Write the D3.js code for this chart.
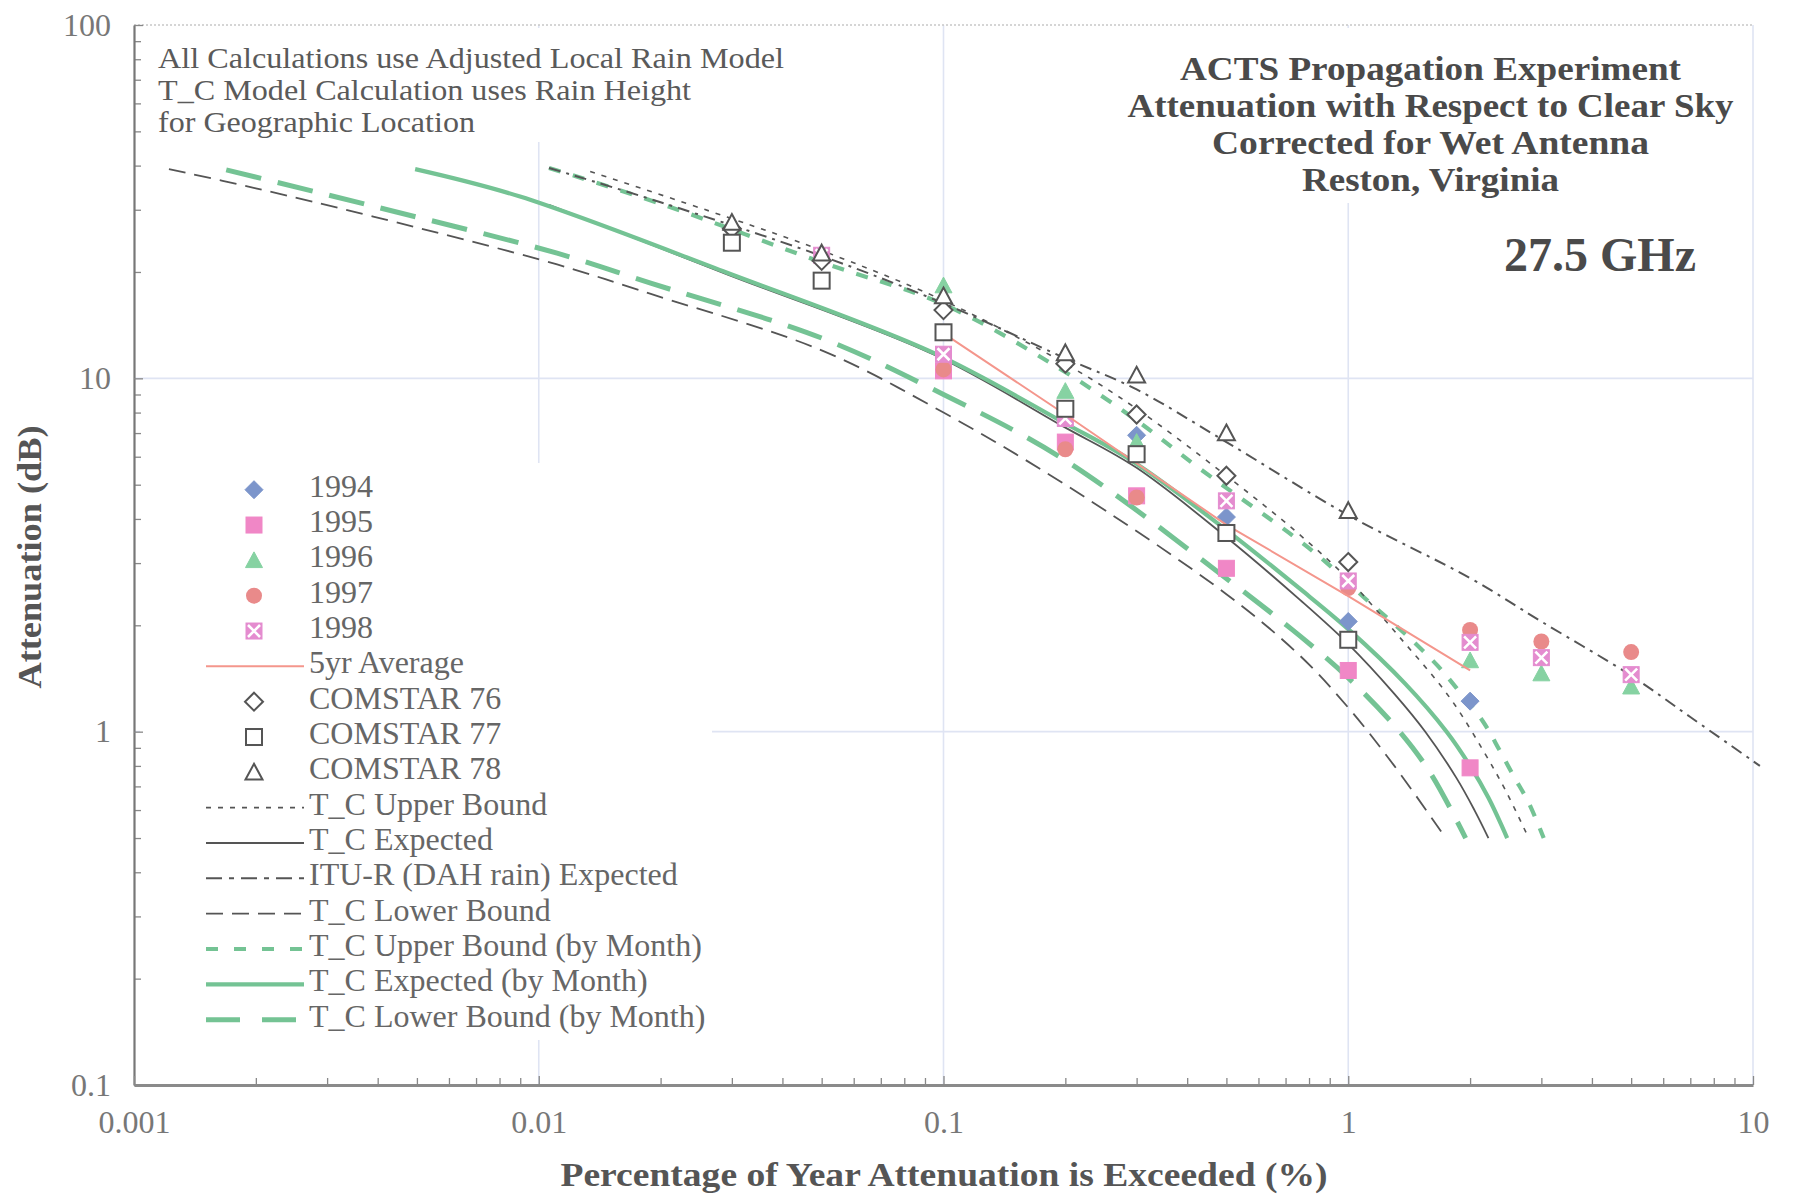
<!DOCTYPE html>
<html><head><meta charset="utf-8">
<script src="https://cdn.jsdelivr.net/npm/d3@7"></script>
<style>
body{margin:0;background:#fff}
svg{display:block}
text{font-family:"Liberation Serif","Times New Roman",serif}
</style>
</head><body>
<svg id="c" width="1794" height="1197"></svg>
<script>
// ---------- axis ticks ----------
const xTickValues = [0.001, 0.01, 0.1, 1, 10];
const xTickLabels = ["0.001", "0.01", "0.1", "1", "10"];
const yTickValues = [0.1, 1, 10, 100];
const yTickLabels = ["0.1", "1", "10", "100"];

// ---------- measured data: [percentage of year, attenuation dB] ----------
const s1994 = [[0.3,6.9],[0.5,4.05],[1,2.05],[2,1.22]];
const s1995 = [[0.1,10.5],[0.2,6.6],[0.3,4.65],[0.5,2.9],[1,1.49],[2,0.79]];
const s1996 = [[0.1,18.3],[0.2,9.2],[0.3,6.6],[2,1.59],[3,1.46],[5,1.34]];
const s1997 = [[0.1,10.6],[0.2,6.3],[0.3,4.6],[1,2.55],[2,1.94],[3,1.8],[5,1.68]];
const s1998 = [[0.05,22.3],[0.1,11.7],[0.2,7.7],[0.5,4.5],[1,2.67],[2,1.79],[3,1.62],[5,1.45]];
const avg5yr = [[0.1,13.4],[0.2,7.9],[0.5,3.85],[1,2.42],[2,1.49]];
const comstar76 = [[0.03,26.5],[0.05,21.5],[0.1,15.6],[0.2,11.0],[0.3,7.9],[0.5,5.3],[1,3.02]];
const comstar77 = [[0.03,24.2],[0.05,18.9],[0.1,13.5],[0.2,8.2],[0.3,6.1],[0.5,3.65],[1,1.82]];
const comstar78 = [[0.03,27.6],[0.05,22.6],[0.1,17.1],[0.2,11.8],[0.3,10.2],[0.5,7.0],[1,4.22]];

// ---------- model curves ----------
const tcUpper = [[0.0134,38.5],[0.0292,28.6],[0.05,23.0],[0.1,16.6],[0.2,11.0],[0.3,8.2],[0.5,5.3],[0.75,3.65],[1,2.7],[1.34,1.85],[1.78,1.25],[2.16,0.88],[2.45,0.68],[2.79,0.5]];
const tcExpected = [[0.0106,31.0],[0.0292,19.7],[0.0945,11.68],[0.198,7.3],[0.3,5.58],[0.5,3.55],[0.76,2.36],[1,1.77],[1.3,1.28],[1.55,1.0],[1.85,0.74],[2.05,0.6],[2.22,0.5]];
const ituExpected = [[0.0106,39.4],[0.02,31.5],[0.05,22.2],[0.1,16.3],[0.2,11.4],[0.3,9.3],[0.5,6.6],[1,4.1],[2,2.72],[3,2.05],[5,1.44],[7,1.1],[10.4,0.8]];
const tcLower = [[0.00122,39.1],[0.002,34.5],[0.0039,28.7],[0.0111,21.0],[0.019,17.3],[0.05,12.0],[0.1,8.0],[0.2,5.0],[0.5,2.45],[0.76,1.64],[1,1.17],[1.3,0.8],[1.74,0.5]];
const tcUpperMonth = [[0.0106,39.4],[0.02,31.2],[0.05,21.3],[0.1,16.2],[0.19,10.8],[0.3,7.6],[0.43,5.55],[0.733,3.57],[0.886,3.0],[1.12,2.34],[1.29,2.03],[1.47,1.77],[1.66,1.54],[1.85,1.33],[2.15,1.07],[2.36,0.89],[2.56,0.75],[2.79,0.63],[3.04,0.5]];
const tcExpectedMonth = [[0.00495,39.1],[0.00899,32.7],[0.0292,19.9],[0.0945,11.8],[0.198,7.5],[0.295,5.8],[0.5,3.72],[0.762,2.53],[1,1.95],[1.38,1.37],[1.75,1.0],[2,0.8],[2.22,0.65],[2.47,0.5]];
const tcLowerMonth = [[0.00169,38.9],[0.0039,30.7],[0.0111,22.6],[0.0189,18.6],[0.05,13.0],[0.1,9.0],[0.198,5.9],[0.516,2.64],[0.762,1.86],[1,1.42],[1.34,1.0],[1.6,0.76],[1.95,0.5]];

// ---------- texts ----------
const legendLabels = ["1994","1995","1996","1997","1998","5yr Average","COMSTAR 76","COMSTAR 77","COMSTAR 78",
  "T_C Upper Bound","T_C Expected","ITU-R (DAH rain) Expected","T_C Lower Bound",
  "T_C Upper Bound (by Month)","T_C Expected (by Month)","T_C Lower Bound (by Month)"];
const noteLines = ["All Calculations use Adjusted Local Rain Model","T_C Model Calculation uses Rain Height","for Geographic Location"];
const titleLines = ["ACTS Propagation Experiment","Attenuation with Respect to Clear Sky","Corrected for Wet Antenna","Reston, Virginia"];
const freqLabel = "27.5 GHz";
const xTitle = "Percentage of Year Attenuation is Exceeded (%)";
const yTitle = "Attenuation (dB)";

// ---------- drawing ----------
const W = 1794, H = 1197;
const svg = d3.select("#c");
svg.append("rect").attr("width", W).attr("height", H).attr("fill", "#fff");

const x = d3.scaleLog().domain([0.001, 10]).range([134, 1753]);
const y = d3.scaleLog().domain([0.1, 100]).range([1085, 25]);

const GREEN = "#74c394", DARK = "#555";
const C = {b94:"#7c95cb", p95:"#f087c6", g96:"#86d2a2", r97:"#e98a8a", p98:"#e48ccf", avg:"#f4968c"};

// gridlines
const grid = svg.append("g");
grid.selectAll("line.v").data([0.01, 0.1, 1, 10]).join("line").attr("class","v")
  .attr("x1", d => x(d)).attr("x2", d => x(d)).attr("y1", y(100)).attr("y2", y(0.1))
  .attr("stroke", "#dfe4f3").attr("stroke-width", 1.6);
grid.selectAll("line.h").data([1, 10]).join("line").attr("class","h")
  .attr("x1", x(0.001)).attr("x2", x(10)).attr("y1", d => y(d)).attr("y2", d => y(d))
  .attr("stroke", "#dfe4f3").attr("stroke-width", 1.6);
grid.append("line").attr("x1", x(0.001)).attr("x2", x(10)).attr("y1", y(100)).attr("y2", y(100))
  .attr("stroke", "#c8c8c8").attr("stroke-width", 1.5).attr("stroke-dasharray", "2,2");

// white text boxes covering gridlines
svg.append("rect").attr("x", 150).attr("y", 28).attr("width", 650).attr("height", 114).attr("fill", "#fff");
svg.append("rect").attr("x", 1100).attr("y", 28).attr("width", 645).attr("height", 175).attr("fill", "#fff");
svg.append("rect").attr("x", 140).attr("y", 463).attr("width", 572).attr("height", 577).attr("fill", "#fff");

// curves
const line = d3.line().x(d => x(d[0])).y(d => y(d[1])).curve(d3.curveCatmullRom.alpha(0.5));
const lineLin = d3.line().x(d => x(d[0])).y(d => y(d[1]));
const curveG = svg.append("g").attr("fill", "none").attr("stroke-linecap", "butt");
const curveDefs = [
  {d: tcLower, stroke: DARK, w: 1.8, dash: "17,9"},
  {d: tcExpected, stroke: DARK, w: 1.8, dash: null},
  {d: tcLowerMonth, stroke: GREEN, w: 5, dash: "36,17"},
  {d: tcExpectedMonth, stroke: GREEN, w: 4.2, dash: null},
  {d: tcUpperMonth, stroke: GREEN, w: 4.2, dash: "12,13"},
  {d: tcUpper, stroke: DARK, w: 1.6, dash: "5,7"},
  {d: ituExpected, stroke: DARK, w: 2, dash: "12,6,3,6"}
];
curveDefs.forEach(c => {
  const p = curveG.append("path").attr("d", line(c.d)).attr("stroke", c.stroke).attr("stroke-width", c.w);
  if (c.dash) p.attr("stroke-dasharray", c.dash);
});

// markers
function marker(g, type, cx, cy) {
  const s = 8;
  if (type === "diamond" || type === "odiamond") {
    const h = 9;
    g.append("path").attr("d", `M${cx},${cy-h}L${cx+h},${cy}L${cx},${cy+h}L${cx-h},${cy}Z`)
      .attr("fill", type === "diamond" ? C.b94 : "#fff")
      .attr("stroke", type === "diamond" ? C.b94 : DARK).attr("stroke-width", type === "diamond" ? 1 : 2);
  } else if (type === "square" || type === "osquare") {
    g.append("rect").attr("x", cx - s).attr("y", cy - s).attr("width", 2*s).attr("height", 2*s)
      .attr("fill", type === "square" ? C.p95 : "#fff")
      .attr("stroke", type === "square" ? C.p95 : DARK).attr("stroke-width", type === "square" ? 1 : 2);
  } else if (type === "triangle" || type === "otriangle") {
    const hw = 8.5, hh = 8.5;
    g.append("path").attr("d", `M${cx},${cy-hh}L${cx+hw},${cy+hh*0.85}L${cx-hw},${cy+hh*0.85}Z`)
      .attr("fill", type === "triangle" ? C.g96 : "#fff")
      .attr("stroke", type === "triangle" ? C.g96 : DARK).attr("stroke-width", type === "triangle" ? 1 : 2)
      .attr("stroke-linejoin", "miter");
  } else if (type === "circle") {
    g.append("circle").attr("cx", cx).attr("cy", cy).attr("r", 8).attr("fill", C.r97);
  } else if (type === "xsquare") {
    g.append("rect").attr("x", cx - s).attr("y", cy - s).attr("width", 2*s).attr("height", 2*s)
      .attr("fill", C.p98).attr("stroke", C.p98).attr("stroke-width", 1);
    g.append("path").attr("d", `M${cx-s+2},${cy-s+2}L${cx+s-2},${cy+s-2}M${cx+s-2},${cy-s+2}L${cx-s+2},${cy+s-2}`)
      .attr("stroke", "#fff").attr("stroke-width", 2.6);
  }
}

const markG = svg.append("g");
const markerSeries = [
  {d: s1994, t: "diamond"}, {d: s1995, t: "square"}, {d: s1996, t: "triangle"},
  {d: s1997, t: "circle"}, {d: s1998, t: "xsquare"}
];
markerSeries.forEach(s => s.d.forEach(p => marker(markG, s.t, x(p[0]), y(p[1]))));
markG.append("path").attr("d", lineLin(avg5yr)).attr("fill", "none").attr("stroke", C.avg).attr("stroke-width", 2);
[{d: comstar76, t: "odiamond"}, {d: comstar77, t: "osquare"}, {d: comstar78, t: "otriangle"}]
  .forEach(s => s.d.forEach(p => marker(markG, s.t, x(p[0]), y(p[1]))));

// axes
const yMinor = [], xMinor = [];
[0.1, 1, 10].forEach(d => { for (let k = 2; k <= 9; k++) yMinor.push(+(d*k).toPrecision(3)); });
[0.001, 0.01, 0.1, 1].forEach(d => { for (let k = 2; k <= 9; k++) xMinor.push(+(d*k).toPrecision(3)); });

const axL = svg.append("g").attr("transform", `translate(${x(0.001)},0)`);
axL.call(d3.axisLeft(y).tickValues(yMinor).tickSize(-7).tickSizeOuter(0).tickFormat(""));
axL.call(g => g.select(".domain").remove());
const axL2 = svg.append("g").attr("transform", `translate(${x(0.001)},0)`);
axL2.call(d3.axisLeft(y).tickValues(yTickValues).tickSize(-9).tickSizeOuter(0).tickPadding(23)
  .tickFormat((d, i) => yTickLabels[i]));
axL2.select(".domain").attr("stroke", "#777").attr("stroke-width", 2.2);

const axB = svg.append("g").attr("transform", `translate(0,${y(0.1)})`);
axB.call(d3.axisBottom(x).tickValues(xMinor).tickSize(-7).tickSizeOuter(0).tickFormat(""));
axB.call(g => g.select(".domain").remove());
const axB2 = svg.append("g").attr("transform", `translate(0,${y(0.1)})`);
axB2.call(d3.axisBottom(x).tickValues(xTickValues).tickSize(-9).tickSizeOuter(0).tickPadding(25)
  .tickFormat((d, i) => xTickLabels[i]));
axB2.select(".domain").attr("stroke", "#8a8a8a").attr("stroke-width", 3.2);

svg.selectAll(".tick line").attr("stroke", "#888").attr("stroke-width", 1.3);
svg.selectAll(".tick text").attr("font-family", "'Liberation Serif', serif").attr("font-size", 32).attr("fill", "#777");

// legend
const legG = svg.append("g");
const legTypes = ["diamond","square","triangle","circle","xsquare","line:avg","odiamond","osquare","otriangle",
  "line:up","line:exp","line:itu","line:low","line:upm","line:expm","line:lowm"];
const lineStyles = {
  avg: {stroke: C.avg, w: 2, dash: null},
  up: {stroke: DARK, w: 1.6, dash: "5,7"},
  exp: {stroke: DARK, w: 1.8, dash: null},
  itu: {stroke: DARK, w: 2, dash: "16,7,5,7"},
  low: {stroke: DARK, w: 1.8, dash: "17,9"},
  upm: {stroke: GREEN, w: 4.2, dash: "12,16"},
  expm: {stroke: GREEN, w: 4.2, dash: null},
  lowm: {stroke: GREEN, w: 5, dash: "34,22"}
};
legendLabels.forEach((lab, i) => {
  const cy = 489.7 + i * 35.33;
  const t = legTypes[i];
  if (t.startsWith("line:")) {
    const st = lineStyles[t.slice(5)];
    const l = legG.append("line").attr("x1", 206).attr("x2", 304).attr("y1", cy).attr("y2", cy)
      .attr("stroke", st.stroke).attr("stroke-width", st.w);
    if (st.dash) l.attr("stroke-dasharray", st.dash);
  } else {
    marker(legG, t, 254, cy);
  }
  legG.append("text").attr("x", 309).attr("y", cy + 7).attr("font-size", 32).attr("fill", "#666").text(lab);
});

// notes
noteLines.forEach((t, i) => {
  svg.append("text").attr("x", 158).attr("y", 67.5 + i * 32).attr("font-size", 29).attr("fill", "#5a5a5a")
    .attr("textLength", [626, 533, 317][i]).attr("lengthAdjust", "spacingAndGlyphs").text(t);
});
// title
titleLines.forEach((t, i) => {
  svg.append("text").attr("x", 1430.5).attr("y", [80, 117, 154, 191][i]).attr("text-anchor", "middle")
    .attr("font-size", 33).attr("font-weight", "bold").attr("fill", "#4a4a4a")
    .attr("textLength", [501, 606, 437, 257][i]).attr("lengthAdjust", "spacingAndGlyphs").text(t);
});
svg.append("text").attr("x", 1504).attr("y", 271).attr("font-size", 48).attr("font-weight", "bold")
  .attr("fill", "#4a4a4a").attr("textLength", 192).attr("lengthAdjust", "spacingAndGlyphs").text(freqLabel);

// axis titles
svg.append("text").attr("x", 944).attr("y", 1186).attr("text-anchor", "middle").attr("font-size", 34)
  .attr("font-weight", "bold").attr("fill", "#555").attr("textLength", 767).attr("lengthAdjust", "spacingAndGlyphs")
  .text(xTitle);
svg.append("text").attr("transform", "translate(41,557) rotate(-90)").attr("text-anchor", "middle")
  .attr("font-size", 34).attr("font-weight", "bold").attr("fill", "#555")
  .attr("textLength", 263).attr("lengthAdjust", "spacingAndGlyphs").text(yTitle);
</script>
</body></html>
